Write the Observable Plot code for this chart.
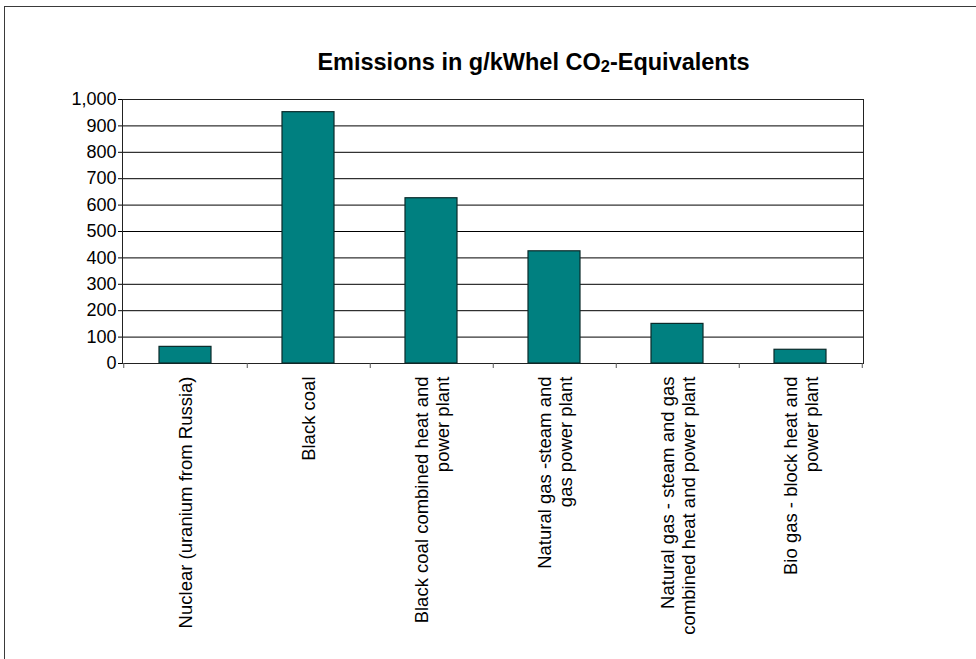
<!DOCTYPE html>
<html>
<head>
<meta charset="utf-8">
<script src="https://cdn.jsdelivr.net/npm/d3@7"></script>
<script src="https://cdn.jsdelivr.net/npm/@observablehq/plot@0.6"></script>
<style>
  html, body { margin: 0; padding: 0; background: #fff; overflow: hidden; }
  #wrap { position: relative; width: 976px; height: 659px; overflow: hidden; }
  #border { position: absolute; left: 4px; top: 6px; width: 2000px; height: 2000px;
            border: 1.5px solid #3a3a3a; pointer-events: none; z-index: 3; }
  #title { position: absolute; left: 0; width: 1067px; top: 51px; text-align: center;
           font-family: "Liberation Sans", Arial, sans-serif; font-weight: bold; font-size: 23.5px;
           color: #000; z-index: 2; line-height: 1; }
  #title sub { font-size: 0.7em; vertical-align: -0.15em; line-height: 0; }
  #chart { position: absolute; left: 0; top: 0; }
</style>
</head>
<body>
<div id="wrap">
  <div id="border"></div>
  <div id="title">Emissions in g/kWhel CO<sub>2</sub>-Equivalents</div>
  <div id="chart"></div>
</div>
<script>
const categories = [
  "Nuclear (uranium from Russia)",
  "Black coal",
  "Black coal combined heat and power plant",
  "Natural gas -steam and gas power plant",
  "Natural gas - steam and gas combined heat and power plant",
  "Bio gas - block heat and power plant"
];
const tickLabels = [
  "Nuclear (uranium from Russia)",
  "Black coal",
  "Black coal combined heat and\npower plant",
  "Natural gas -steam and\ngas power plant",
  "Natural gas - steam and gas\ncombined heat and power plant",
  "Bio gas - block heat and\npower plant"
];
const emissions = [63, 952, 626, 425, 150, 52];
const yTicks = [0, 100, 200, 300, 400, 500, 600, 700, 800, 900, 1000];

const data = categories.map((c, i) => ({category: c, label: tickLabels[i], value: emissions[i]}));

const W = 976, H = 659, ML = 122, MR = 113, MT = 99, MB = 296;
const halfStep = (W - ML - MR) / categories.length / 2;

const chart = Plot.plot({
  width: W,
  height: H,
  marginLeft: ML,
  marginRight: MR,
  marginTop: MT,
  marginBottom: MB,
  style: {fontFamily: "'Liberation Sans', Arial, sans-serif", fontSize: "17.5px", color: "#000", background: "transparent"},
  x: {domain: categories, paddingInner: 0.58, paddingOuter: 0.29, axis: null},
  y: {domain: [0, 1000], axis: null},
  marks: [
    Plot.ruleY(yTicks.filter(v => v > 0), {stroke: "#000", strokeWidth: 1}),
    Plot.frame({stroke: "#222", strokeWidth: 1}),
    Plot.barY(data, {x: "category", y: "value", fill: "#008080", stroke: "#0a2a2a", strokeWidth: 1.2}),
    Plot.axisY({ticks: yTicks, tickFormat: d3.format(","), tickSize: 4, tickPadding: 2, label: null, stroke: "#000", fontSize: 18}),
    Plot.axisX({ticks: categories, tickFormat: () => "", tickSize: 5, dx: halfStep, stroke: "#555", label: null}),
    Plot.axisX({ticks: categories.slice(0, 1), tickFormat: () => "", tickSize: 5, dx: -halfStep, stroke: "#555", label: null}),
    Plot.text(data, {x: "category", text: "label", frameAnchor: "bottom", rotate: -90,
      textAnchor: "end", lineAnchor: "middle", lineHeight: 1.17, dy: 13, fontSize: 18.5, fill: "#000"})
  ]
});
document.getElementById("chart").appendChild(chart);
</script>
</body>
</html>
